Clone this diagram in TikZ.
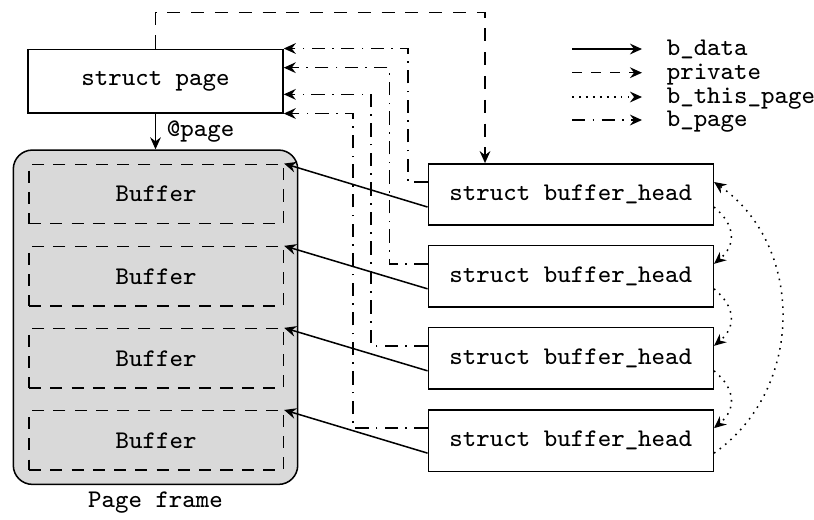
\documentclass[tikz,border=0pt]{standalone}
\usetikzlibrary{arrows.meta}
\begin{document}
\begin{tikzpicture}[x=0.315pt,y=-0.315pt,line width=0.48pt,
  >={Stealth[length=3.8pt,width=3.4pt,inset=1.3pt]},
  every node/.style={font=\footnotesize\ttfamily},
  pagebox/.style={draw,inner sep=0pt,minimum width=255*0.315pt,minimum height=63.5*0.315pt},
  framebox/.style={draw,fill=black!15,rounded corners=6pt,inner sep=0pt,minimum width=284.4*0.315pt,minimum height=334.3*0.315pt},
  bufbox/.style={draw,dash pattern=on 3.8pt off 2.9pt,inner sep=0pt,minimum width=254.3*0.315pt,minimum height=59.4*0.315pt},
  bhbox/.style={draw,inner sep=0pt,minimum width=285*0.315pt,minimum height=61.3*0.315pt},
  legtext/.style={anchor=west,inner sep=0pt,text height=1ex,text depth=0pt},
  bdata/.style={->},
  bpriv/.style={->,dash pattern=on 4.1pt off 3.4pt},
  legpriv/.style={->,dash pattern=on 3.2pt off 2.8pt},
  bthis/.style={->,dash pattern=on 0.5pt off 1.7pt},
  bpage/.style={->,dash pattern=on 4.2pt off 2.3pt on 0.5pt off 2.3pt}]
\useasboundingbox (0,0) rectangle (814,519);

% page frame and buffers
\node[framebox] (frame) at (155.5,317.2) {};
\node (pf) at (155.5,503) {Page frame};
\node[bufbox] (b1) at (156.2,194) {Buffer};
\node[bufbox] (b2) at (156.2,276.3) {Buffer};
\node[bufbox] (b3) at (156.2,358.3) {Buffer};
\node[bufbox] (b4) at (156.2,440.4) {Buffer};

% struct page
\node[pagebox] (page) at (155.5,81) {struct page};
\draw[->] (page) -- node[right]{@page} (frame);

% buffer heads
\node[bhbox] (h1) at (570.8,194.5) {struct buffer\_head};
\node[bhbox] (h2) at (570.8,276.3) {struct buffer\_head};
\node[bhbox] (h3) at (570.8,358.3) {struct buffer\_head};
\node[bhbox] (h4) at (570.8,440.6) {struct buffer\_head};

% private
\coordinate (pv) at (485,12.7);
\draw[bpriv] (page.north) |- (pv) -- (pv |- h1.north);

% b_page
\draw[bpage] ([yshift=3.94pt]h1.west) -| ([xshift=39.15pt]page.north east) -- (page.north east);
\draw[bpage] ([yshift=3.94pt]h2.west) -| ([xshift=33.3pt,yshift=4.2pt]page.east) -- ([yshift=4.2pt]page.east);
\draw[bpage] ([yshift=3.94pt]h3.west) -| ([xshift=27.5pt,yshift=-4.2pt]page.east) -- ([yshift=-4.2pt]page.east);
\draw[bpage] ([yshift=3.94pt]h4.west) -| ([xshift=21.83pt]page.south east) -- (page.south east);

% b_data
\draw[bdata] ([yshift=-3.94pt]h1.west) -- (b1.north east);
\draw[bdata] ([yshift=-3.94pt]h2.west) -- (b2.north east);
\draw[bdata] ([yshift=-3.94pt]h3.west) -- (b3.north east);
\draw[bdata] ([yshift=-3.94pt]h4.west) -- (b4.north east);

% b_this_page
\draw[bthis] ([yshift=-3.94pt]h1.east) to[bend left=50,looseness=1.3] ([yshift=3.94pt]h2.east);
\draw[bthis] ([yshift=-3.94pt]h2.east) to[bend left=50,looseness=1.3] ([yshift=3.94pt]h3.east);
\draw[bthis] ([yshift=-3.94pt]h3.east) to[bend left=50,looseness=1.3] ([yshift=3.94pt]h4.east);
\draw[bthis] ([yshift=-3.94pt]h4.east) to[bend right=55,looseness=1.05] ([yshift=3.94pt]h1.east);

% legend
\coordinate (la1) at (572,49);
\coordinate (la2) at (572,72.7);
\coordinate (la3) at (572,97);
\coordinate (la4) at (572,120);
\node[legtext] (lt1) at (666,49) {b\_data};
\node[legtext] (lt2) at (666,72.7) {private};
\node[legtext] (lt3) at (666,97) {b\_this\_page};
\node[legtext] (lt4) at (666,120) {b\_page};
\draw[bdata] (la1) -- ([xshift=-7.56pt]lt1.west);
\draw[legpriv] (la2) -- ([xshift=-7.56pt]lt2.west);
\draw[bthis] (la3) -- ([xshift=-7.56pt]lt3.west);
\draw[bpage] (la4) -- ([xshift=-7.56pt]lt4.west);
\end{tikzpicture}
\end{document}
